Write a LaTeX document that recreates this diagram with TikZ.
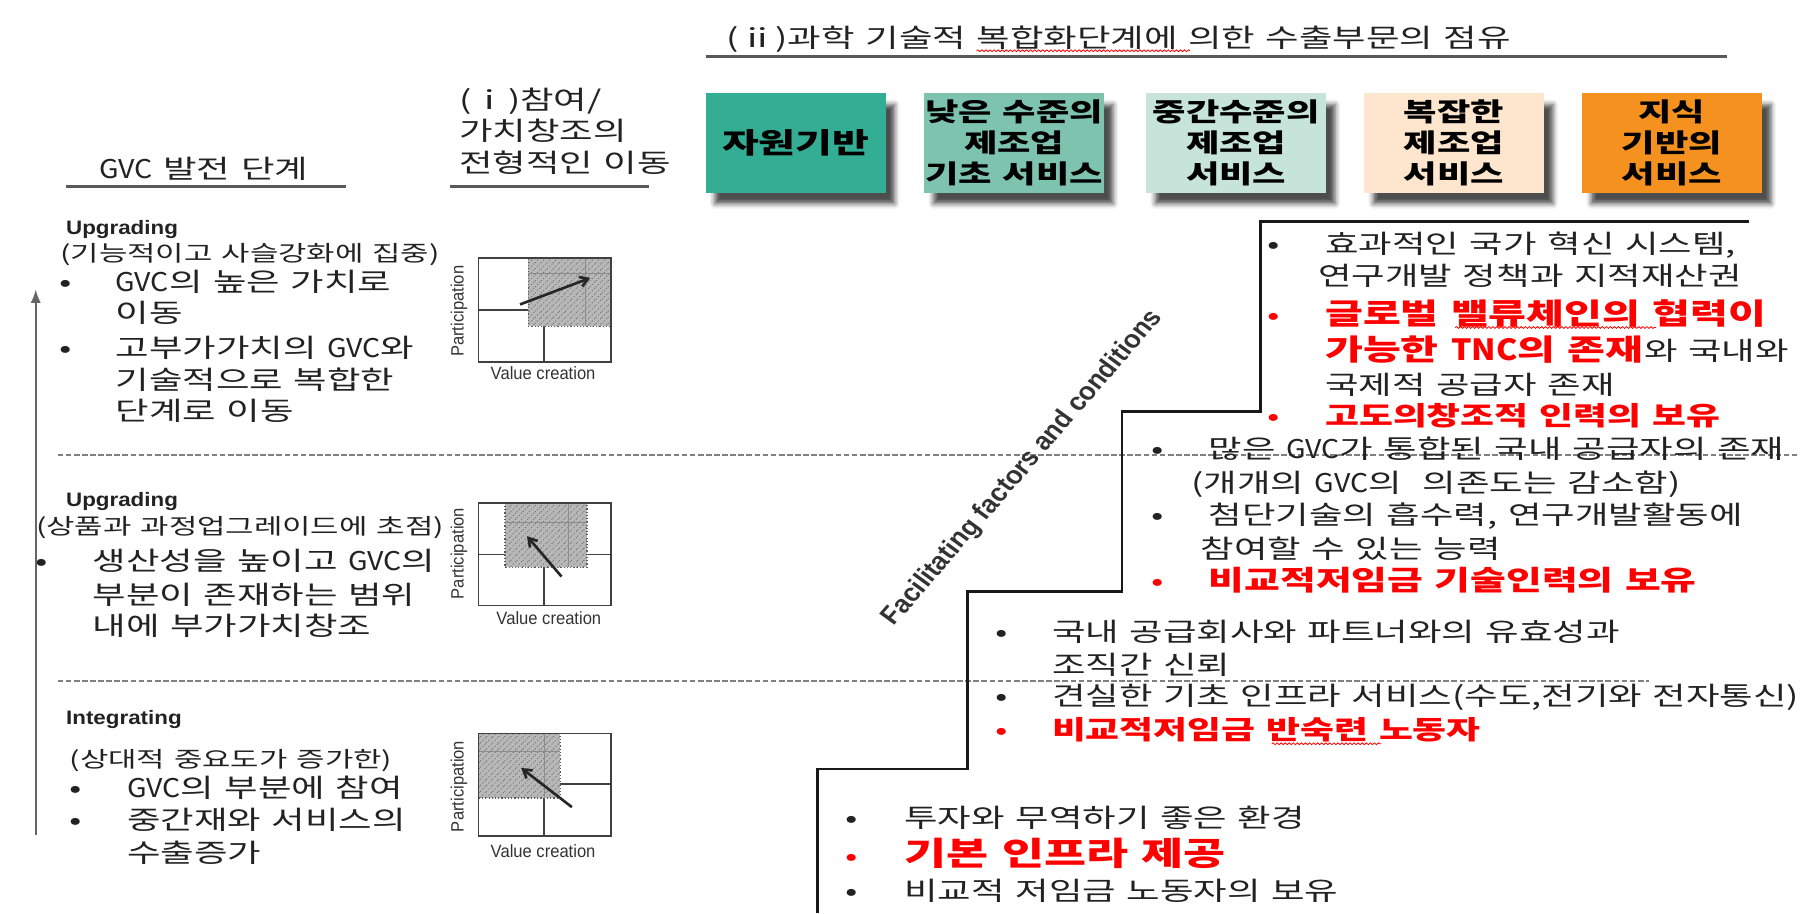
\documentclass[tikz,border=0pt]{standalone}
\usepackage{fontspec}
\usepackage{tikz}
\usetikzlibrary{arrows.meta}
\usetikzlibrary{patterns}
\usetikzlibrary{shadows.blur}
\usetikzlibrary{decorations.pathmorphing}

\newfontfamily\kr[FakeStretch=1.41,WordSpace=1.3]{Noto Sans CJK KR}
\newfontfamily\krn[FakeStretch=1.1,WordSpace=1.3]{Noto Sans CJK KR}
\newfontfamily\en[FakeStretch=1.15]{Liberation Sans}
\newfontfamily\ennar[FakeStretch=0.93]{Liberation Sans}
\newfontfamily\enit{Liberation Sans}

\definecolor{secA}{HTML}{33AE94}
\definecolor{secB}{HTML}{7DC3AE}
\definecolor{secC}{HTML}{C7E4DB}
\definecolor{secD}{HTML}{FDE6CD}
\definecolor{secE}{HTML}{F5911E}
\definecolor{ink}{HTML}{222222}

\tikzset{
  txt/.style={anchor=base west, inner sep=0pt, text=ink, font=\kr\fontsize{12.75}{15.3}\selectfont},
  paren/.style={txt, font=\kr\fontsize{10.8}{13}\selectfont},
  hot/.style={anchor=base west, inner sep=0pt, text=red, font=\kr\bfseries\fontsize{12.9}{15.3}\selectfont},
  dot/.style={anchor=base, inner sep=0pt, text=ink, font=\kr\fontsize{12.75}{15.3}\selectfont},
  reddot/.style={dot, text=red},
  stage/.style={anchor=base west, inner sep=0pt, text=ink, font=\en\bfseries\fontsize{9.6}{11}\selectfont},
  axlabel/.style={inner sep=0pt, text=black!80, font=\ennar\fontsize{8.8}{10}\selectfont},
  sector/.style={minimum width=3.12cm, minimum height=1.72cm, inner sep=0pt, align=center, text=black,
    font=\kr\bfseries\fontsize{12.7}{15.3}\selectfont,
    blur shadow={shadow xshift=4.5pt, shadow yshift=-5.5pt, shadow blur radius=2.5pt, shadow opacity=70}},
  rule/.style={draw=black!65, line width=1.4pt},
  tierline/.style={draw=black!50, line width=1pt, dash pattern=on 2.8pt off 1.2pt},
  cell/.style={draw=black!75, line width=0.8pt},
  cellin/.style={draw=black!45, line width=0.5pt},
  hatch/.style={fill=black!28, draw=black!65, densely dotted, line width=0.6pt,
    postaction={pattern=north east lines, pattern color=black!55}},
  move/.style={-{Straight Barb[length=4pt,width=5pt]}, line width=1.3pt, draw=black!85},
  stair/.style={draw=black!90, line width=1.2pt},
  spell/.style={draw=red, line width=0.4pt, decorate, decoration={snake, amplitude=0.45pt, segment length=2pt}}
}

\begin{document}
\begin{tikzpicture}[x=0.02cm, y=-0.02cm, >/.tip={Latex}]
	\useasboundingbox (0,0) rectangle (1568,792);

	% headings
	\draw (630,41) node (hdrii) [txt] {(ⅱ)과학 기술적 복합화단계에 의한 수출부문의 점유};
	\draw[rule] (612,49) -- (1498,49);
	\draw[spell] (847,44) -- (1032,44);
	\draw (398,95) node (hdri1) [txt] {(ⅰ)참여/};
	\draw (398,122) node (hdri2) [txt] {가치창조의};
	\draw (398,150) node (hdri3) [txt] {전형적인 이동};
	\draw[rule] (390,162) -- (563,162);
	\draw (86,155) node (hdrgvc) [txt] {{\krn GVC} 발전 단계};
	\draw[rule] (57,162) -- (300,162);

	% sectors
	\draw (690,124) node (res) [sector, fill=secA, font=\kr\bfseries\fontsize{14}{17}\selectfont] {자원기반};
	\draw (879.5,124) node (low) [sector, fill=secB] {낮은 수준의\\제조업\\기초 서비스};
	\draw (1072,124) node (mid) [sector, fill=secC] {중간수준의\\제조업\\서비스};
	\draw (1261,124) node (cpx) [sector, fill=secD] {복잡한\\제조업\\서비스};
	\draw (1450,124) node (knw) [sector, fill=secE] {지식\\기반의\\서비스};

	% stage separators and arrow
	\draw[tierline] (50,395) -- (1560,395);
	\draw[tierline] (50,591) -- (1430,591);
	\coordinate (lo) at (31,724);
	\coordinate (hi) at (31,251);
	\draw[->, draw=black!60, line width=0.8pt] (lo) -- (hi);

	% upgrading: functional
	\draw (57,203) node (upA) [stage] {Upgrading};
	\draw (52,226.5) node (upAp) [paren] {(기능적이고 사슬강화에 집중)};
	\draw (57,253) node (upAd1) [dot] {•};
	\draw (100,253) node (upA1) [txt] {{\krn GVC}의 높은 가치로};
	\draw (100,280) node (upA2) [txt] {이동};
	\draw (57,310) node (upAd2) [dot] {•};
	\draw (100,310) node (upA3) [txt] {고부가가치의 {\krn GVC}와};
	\draw (100,338) node (upA4) [txt] {기술적으로 복합한};
	\draw (100,365) node (upA5) [txt] {단계로 이동};

	\draw[cell] (415,224) rectangle (530,314);
	\draw[cell] (415,269) -- (530,269) (472,224) -- (472,314);
	\draw[hatch] (458,224) rectangle (530,283);
	\draw[cellin] (508,224) -- (508,283) (458,237) -- (530,237);
	\draw[cell] (415,224) rectangle (530,314);
	\coordinate (mA0) at (451,264);
	\coordinate (mA1) at (512,241);
	\draw[move] (mA0) -- (mA1);
	\draw (398,270) node (pA) [axlabel, rotate=90] {Participation};
	\draw (471,324) node (vA) [axlabel] {Value creation};

	% upgrading: product and process
	\draw (57,439) node (upB) [stage] {Upgrading};
	\draw (31,463.5) node (upBp) [paren] {(상품과 과정업그레이드에 초점)};
	\draw (36,495) node (upBd1) [dot] {•};
	\draw (80,495) node (upB1) [txt] {생산성을 높이고 {\krn GVC}의};
	\draw (80,524) node (upB2) [txt] {부분이 존재하는 범위};
	\draw (80,551) node (upB3) [txt] {내에 부가가치창조};

	\draw[cell] (415,436) rectangle (530,525);
	\draw[cell] (415,481) -- (530,481) (472,436) -- (472,525);
	\draw[hatch] (438,436) rectangle (509,492);
	\draw[cellin] (493,436) -- (493,492) (438,453) -- (509,453);
	\draw[cell] (415,436) rectangle (530,525);
	\coordinate (mB0) at (487,500);
	\coordinate (mB1) at (457,465);
	\draw[move] (mB0) -- (mB1);
	\draw (398,480) node (pB) [axlabel, rotate=90] {Participation};
	\draw (476,536) node (vB) [axlabel] {Value creation};

	% integrating
	\draw (57,628) node (intC) [stage] {Integrating};
	\draw (60,665.5) node (intCp) [paren] {(상대적 중요도가 증가한)};
	\draw (66,692) node (intCd1) [dot] {•};
	\draw (110,692) node (intC1) [txt] {{\krn GVC}의 부분에 참여};
	\draw (66,719) node (intCd2) [dot] {•};
	\draw (110,719) node (intC2) [txt] {중간재와 서비스의};
	\draw (110,748) node (intC3) [txt] {수출증가};

	\draw[cell] (415,636) rectangle (530,725);
	\draw[cell] (415,680) -- (530,680) (472,636) -- (472,725);
	\draw[hatch] (415,636) rectangle (486,692);
	\draw[cellin] (472,636) -- (472,692) (415,652) -- (486,652);
	\draw[cell] (415,636) rectangle (530,725);
	\coordinate (mC0) at (496,700);
	\coordinate (mC1) at (452,666);
	\draw[move] (mC0) -- (mC1);
	\draw (398,682) node (pC) [axlabel, rotate=90] {Participation};
	\draw (471,738) node (vC) [axlabel] {Value creation};

	% staircase of conditions
	\draw[stair] (1517,192) -- (1093,192) -- (1093,357) -- (973,357) -- (973,513)
		-- (839,513) -- (839,667) -- (709,667) -- (709,792);
	\begin{scope}[xscale=1.33]
		\node (fac) [transform shape, rotate=56.8, inner sep=0pt, text=black!80,
			font=\enit\bfseries\itshape\fontsize{11.2}{13}\selectfont] at (667,406) {Facilitating factors and conditions};
	\end{scope}

	% knowledge-based step
	\draw (1105,220) node (kd1) [dot] {•};
	\draw (1149,220) node (k1) [txt] {효과적인 국가 혁신 시스템,};
	\draw (1143,248) node (k2) [txt] {연구개발 정책과 지적재산권};
	\draw (1105,281) node (kd2) [reddot] {•};
	\draw (1149,281) node (k3) [hot, font=\kr\bfseries\fontsize{14.4}{17}\selectfont] {글로벌 밸류체인의 협력이};
	\draw[spell] (1262,284) -- (1436,284);
	\draw (1149,313) node (k4) [hot, font=\kr\bfseries\fontsize{14.4}{17}\selectfont] {가능한 {\krn TNC}의 존재};
	\node (k4b) [txt] at (k4.base east) {와 국내와};
	\draw (1149,342) node (k5) [txt] {국제적 공급자 존재};
	\draw (1105,369) node (kd3) [reddot] {•};
	\draw (1149,369) node (k6) [hot] {고도의창조적 인력의 보유};

	% complex step
	\draw (1004,398) node (cd1) [dot] {•};
	\draw (1048,398) node (c1) [txt] {많은 {\krn GVC}가 통합된 국내 공급자의 존재};
	\draw (1033,427) node (c2) [txt] {(개개의 {\krn GVC}의~~의존도는 감소함)};
	\draw (1004,455) node (cd2) [dot] {•};
	\draw (1048,455) node (c3) [txt] {첨단기술의 흡수력, 연구개발활동에};
	\draw (1041,484) node (c4) [txt] {참여할 수 있는 능력};
	\draw (1004,512) node (cd3) [reddot] {•};
	\draw (1048,512) node (c5) [hot, font=\kr\bfseries\fontsize{13.6}{16.5}\selectfont] {비교적저임금 기술인력의 보유};

	% intermediate step
	\draw (869,556) node (md1) [dot] {•};
	\draw (912,556) node (m1) [txt] {국내 공급회사와 파트너와의 유효성과};
	\draw (912,585) node (m2) [txt] {조직간 신뢰};
	\draw (869,612) node (md2) [dot] {•};
	\draw (912,612) node (m3) [txt] {견실한 기초 인프라 서비스(수도,전기와 전자통신)};
	\draw (869,641) node (md3) [reddot] {•};
	\draw (912,641) node (m4) [hot] {비교적저임금 반숙련 노동자};
	\draw[spell] (1103,645) -- (1198,645);

	% resource step
	\draw (739,718) node (rd1) [dot] {•};
	\draw (784,718) node (r1) [txt] {투자와 무역하기 좋은 환경};
	\draw (739,751) node (rd2) [reddot] {•};
	\draw (784,751) node (r2) [hot, font=\kr\bfseries\fontsize{16}{19}\selectfont] {기본 인프라 제공};
	\draw (739,781) node (rd3) [dot] {•};
	\draw (784,781) node (r3) [txt] {비교적 저임금 노동자의 보유};
\end{tikzpicture}
\end{document}
